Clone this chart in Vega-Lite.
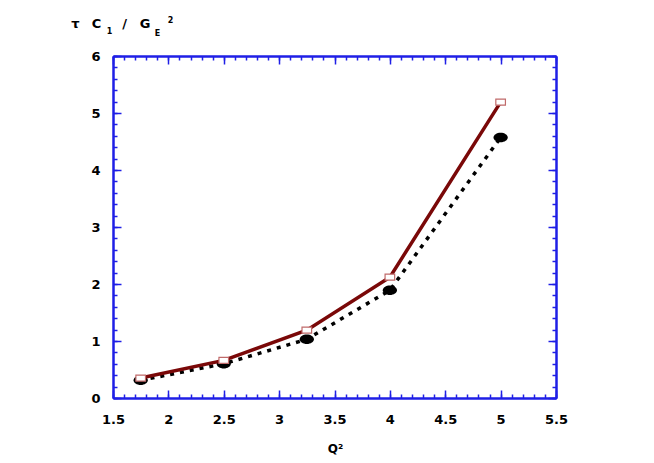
{
  "$schema": "https://vega.github.io/schema/vega-lite/v6.json",
  "autosize": "none",
  "width": 443,
  "height": 342,
  "padding": {"left": 113, "top": 56, "right": 98, "bottom": 65},
  "background": "white",
  "config": {
    "view": {"stroke": null},
    "axis": {
      "grid": false,
      "domainColor": "#1f1fe6",
      "domainWidth": 2,
      "tickColor": "#1f1fe6",
      "tickWidth": 1.5,
      "labelFont": "DejaVu Sans",
      "labelFontWeight": "bold",
      "labelFontSize": 13,
      "labelColor": "black",
      "labelFlush": false,
      "labelOverlap": false,
      "titleFont": "DejaVu Sans",
      "titleFontWeight": "bold",
      "titleColor": "black",
      "titleAngle": 0,
      "titleAlign": "center",
      "titleBaseline": "alphabetic"
    }
  },
  "data": {
    "values": [
      {"Q2": 1.75, "series": "square", "value": 0.35},
      {"Q2": 2.5, "series": "square", "value": 0.66},
      {"Q2": 3.25, "series": "square", "value": 1.19},
      {"Q2": 4.0, "series": "square", "value": 2.12},
      {"Q2": 5.0, "series": "square", "value": 5.19},
      {"Q2": 1.75, "series": "circle", "value": 0.31},
      {"Q2": 2.5, "series": "circle", "value": 0.6},
      {"Q2": 3.25, "series": "circle", "value": 1.03},
      {"Q2": 4.0, "series": "circle", "value": 1.89},
      {"Q2": 5.0, "series": "circle", "value": 4.57}
    ]
  },
  "resolve": {"axis": {"x": "independent", "y": "independent"}},
  "layer": [
    {
      "transform": [{"filter": "datum.series === 'circle'"}],
      "mark": {"type": "line", "color": "black", "strokeWidth": 3.5, "strokeDash": [4, 6], "strokeCap": "butt"},
      "encoding": {
        "x": {"field": "Q2", "type": "quantitative", "scale": {"domain": [1.5, 5.5], "nice": false, "zero": false},
          "axis": {"orient": "bottom", "values": [1.5, 2, 2.5, 3, 3.5, 4, 4.5, 5, 5.5], "tickSize": -8, "labelPadding": 23,
            "format": "~g", "title": "Q²", "titleFontSize": 12, "titleX": 222, "titleY": 54}},
        "y": {"field": "value", "type": "quantitative", "scale": {"domain": [0, 6], "nice": false},
          "axis": {"orient": "left", "values": [0, 1, 2, 3, 4, 5, 6], "tickSize": -8, "labelPadding": 21,
            "title": "τ", "titleFontSize": 13, "titleX": -38, "titleY": -28.5}}
      }
    },
    {
      "transform": [{"filter": "datum.series === 'circle'"}],
      "mark": {"type": "point", "filled": true, "color": "black", "opacity": 1, "size": 90,
        "shape": "M-1.5,0A1.5,1,0,1,0,1.5,0A1.5,1,0,1,0,-1.5,0Z"},
      "encoding": {
        "x": {"field": "Q2", "type": "quantitative", "scale": {"domain": [1.5, 5.5], "nice": false, "zero": false},
          "axis": {"orient": "bottom", "values": [1.5, 1.6, 1.7, 1.8, 1.9, 2, 2.1, 2.2, 2.3, 2.4, 2.5, 2.6, 2.7, 2.8, 2.9, 3, 3.1, 3.2, 3.3, 3.4, 3.5, 3.6, 3.7, 3.8, 3.9, 4, 4.1, 4.2, 4.3, 4.4, 4.5, 4.6, 4.7, 4.8, 4.9, 5, 5.1, 5.2, 5.3, 5.4, 5.5],
            "tickSize": -4, "labels": false, "title": "2", "titleFontSize": 8, "titleX": 57, "titleY": -376}},
        "y": {"field": "value", "type": "quantitative", "scale": {"domain": [0, 6], "nice": false},
          "axis": {"orient": "left", "values": [0, 0.2, 0.4, 0.6, 0.8, 1, 1.2, 1.4, 1.6, 1.8, 2, 2.2, 2.4, 2.6, 2.8, 3, 3.2, 3.4, 3.6, 3.8, 4, 4.2, 4.4, 4.6, 4.8, 5, 5.2, 5.4, 5.6, 5.8, 6],
            "tickSize": -4, "labels": false, "title": "C", "titleFontSize": 13, "titleX": -17, "titleY": -28.5}}
      }
    },
    {
      "transform": [{"filter": "datum.series === 'square'"}],
      "mark": {"type": "line", "color": "#7a0808", "strokeWidth": 3.5},
      "encoding": {
        "x": {"field": "Q2", "type": "quantitative", "scale": {"domain": [1.5, 5.5], "nice": false, "zero": false},
          "axis": {"orient": "top", "values": [1.5, 2, 2.5, 3, 3.5, 4, 4.5, 5, 5.5], "tickSize": -8, "labels": false,
            "title": "G", "titleFontSize": 13, "titleX": 31.5, "titleY": -28.5}},
        "y": {"field": "value", "type": "quantitative", "scale": {"domain": [0, 6], "nice": false},
          "axis": {"orient": "right", "values": [0, 1, 2, 3, 4, 5, 6], "tickSize": -8, "labels": false,
            "title": "1", "titleFontSize": 8, "titleX": -447, "titleY": -23}}
      }
    },
    {
      "transform": [{"filter": "datum.series === 'square'"}],
      "mark": {"type": "point", "filled": true, "fill": "white", "stroke": "#c06a6a", "strokeWidth": 1.2, "opacity": 1, "size": 36,
        "shape": "M-1.6,-1H1.6V1H-1.6Z"},
      "encoding": {
        "x": {"field": "Q2", "type": "quantitative", "scale": {"domain": [1.5, 5.5], "nice": false, "zero": false},
          "axis": {"orient": "top", "values": [1.5, 1.6, 1.7, 1.8, 1.9, 2, 2.1, 2.2, 2.3, 2.4, 2.5, 2.6, 2.7, 2.8, 2.9, 3, 3.1, 3.2, 3.3, 3.4, 3.5, 3.6, 3.7, 3.8, 3.9, 4, 4.1, 4.2, 4.3, 4.4, 4.5, 4.6, 4.7, 4.8, 4.9, 5, 5.1, 5.2, 5.3, 5.4, 5.5],
            "tickSize": -4, "labels": false, "title": "E", "titleFontSize": 8, "titleX": 44, "titleY": -21}},
        "y": {"field": "value", "type": "quantitative", "scale": {"domain": [0, 6], "nice": false},
          "axis": {"orient": "right", "values": [0, 0.2, 0.4, 0.6, 0.8, 1, 1.2, 1.4, 1.6, 1.8, 2, 2.2, 2.4, 2.6, 2.8, 3, 3.2, 3.4, 3.6, 3.8, 4, 4.2, 4.4, 4.6, 4.8, 5, 5.2, 5.4, 5.6, 5.8, 6],
            "tickSize": -4, "labels": false, "title": "/", "titleFontSize": 13, "titleX": -432, "titleY": -28.5}}
      }
    }
  ]
}
